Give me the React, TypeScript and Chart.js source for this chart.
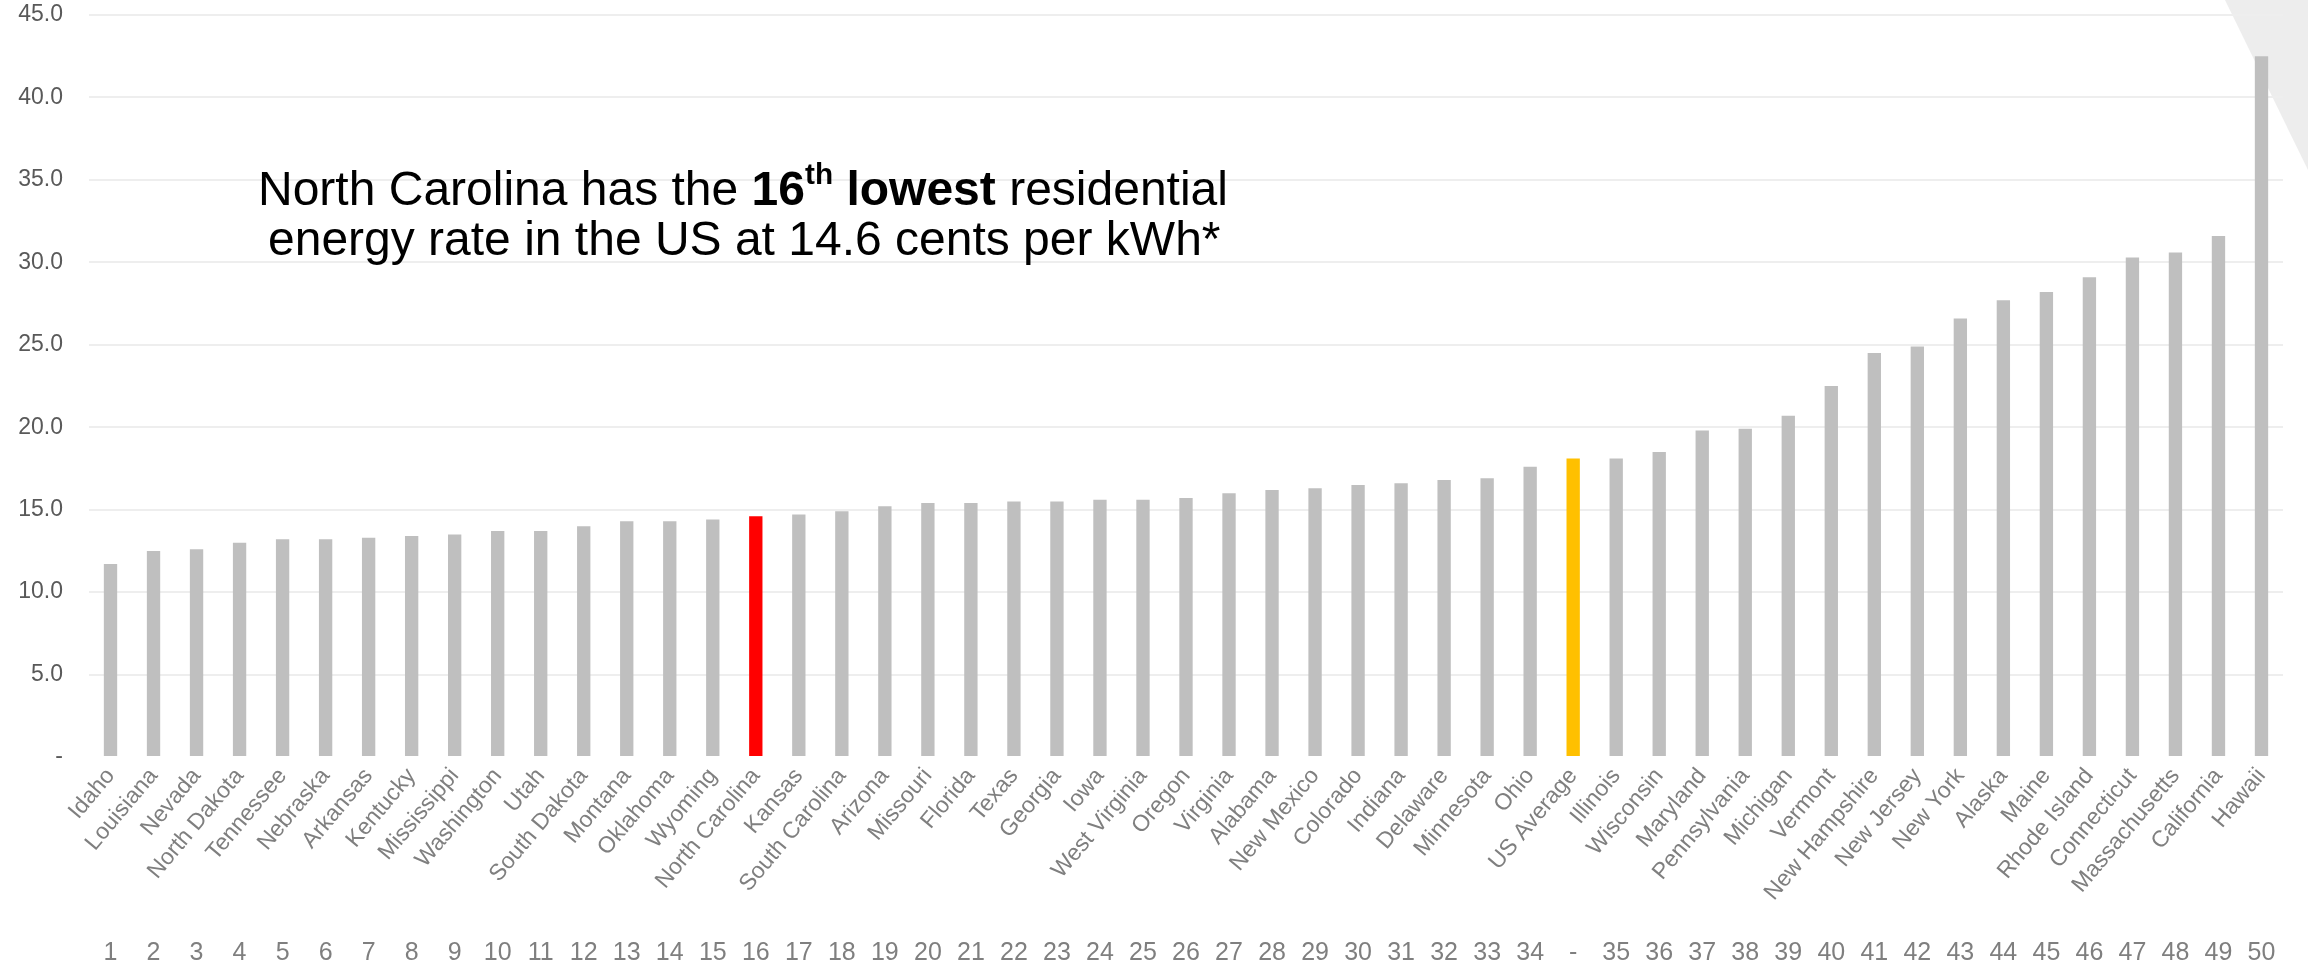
import React, { useEffect, useRef } from 'react';
import { Chart, registerables } from 'chart.js';

Chart.register(...registerables);

const categories = [
  'Idaho', 'Louisiana', 'Nevada', 'North Dakota', 'Tennessee', 'Nebraska', 'Arkansas', 'Kentucky',
  'Mississippi', 'Washington', 'Utah', 'South Dakota', 'Montana', 'Oklahoma', 'Wyoming', 'North Carolina',
  'Kansas', 'South Carolina', 'Arizona', 'Missouri', 'Florida', 'Texas', 'Georgia', 'Iowa',
  'West Virginia', 'Oregon', 'Virginia', 'Alabama', 'New Mexico', 'Colorado', 'Indiana', 'Delaware',
  'Minnesota', 'Ohio', 'US Average', 'Illinois', 'Wisconsin', 'Maryland', 'Pennsylvania', 'Michigan',
  'Vermont', 'New Hampshire', 'New Jersey', 'New York', 'Alaska', 'Maine', 'Rhode Island', 'Connecticut',
  'Massachusetts', 'California', 'Hawaii',
];

// Residential rate, cents per kWh
const rates = [
  11.7, 12.5, 12.6, 13.0, 13.2, 13.2, 13.3, 13.4, 13.5, 13.7,
  13.7, 14.0, 14.3, 14.3, 14.4, 14.6, 14.7, 14.9, 15.2, 15.4,
  15.4, 15.5, 15.5, 15.6, 15.6, 15.7, 16.0, 16.2, 16.3, 16.5,
  16.6, 16.8, 16.9, 17.6, 18.1, 18.1, 18.5, 19.8, 19.9, 20.7,
  22.5, 24.5, 24.9, 26.6, 27.7, 28.2, 29.1, 30.3, 30.6, 31.6,
  42.5,
];

const ranks = [
  '1', '2', '3', '4', '5', '6', '7', '8', '9', '10', '11', '12', '13', '14', '15', '16', '17',
  '18', '19', '20', '21', '22', '23', '24', '25', '26', '27', '28', '29', '30', '31', '32', '33',
  '34', '-', '35', '36', '37', '38', '39', '40', '41', '42', '43', '44', '45', '46', '47', '48',
  '49', '50',
];

const highlightState = 'North Carolina';
const averageLabel = 'US Average';

const FONT = '"Liberation Sans", Arial, sans-serif';
const NARROW = '"Liberation Sans Narrow", "Liberation Sans", Arial, sans-serif';

export default function App() {
  const canvasRef = useRef<HTMLCanvasElement | null>(null);

  useEffect(() => {
    if (!canvasRef.current) return;
    const colors = categories.map((c) =>
      c === highlightState ? '#ff0000' : c === averageLabel ? '#ffc000' : '#bfbfbf'
    );
    const chart = new Chart(canvasRef.current, {
      type: 'bar',
      data: {
        labels: categories,
        datasets: [
          {
            data: rates,
            backgroundColor: colors,
            borderWidth: 0,
            barPercentage: 0.31,
            categoryPercentage: 1,
          },
        ],
      },
      options: {
        responsive: true,
        maintainAspectRatio: false,
        animation: false,
        layout: { padding: { top: 15, right: 25, left: 0, bottom: 0 } },
        plugins: {
          legend: { display: false },
          tooltip: { enabled: false },
        },
        scales: {
          x: {
            type: 'category',
            offset: true,
            grid: { display: false, drawTicks: false },
            border: { display: false },
            ticks: {
              autoSkip: false,
              minRotation: 50,
              maxRotation: 50,
              padding: 6,
              color: '#7f7f7f',
              font: { family: FONT, size: 23 },
            },
            afterFit: (s: any) => {
              s.height = 155;
              s.paddingTop = 0;
            },
          },
          x2: {
            type: 'category',
            labels: ranks,
            position: 'bottom',
            offset: true,
            grid: { display: false, drawTicks: false },
            border: { display: false },
            ticks: {
              autoSkip: false,
              minRotation: 0,
              maxRotation: 0,
              padding: 26,
              color: '#7f7f7f',
              font: { family: NARROW, size: 25 },
            },
            afterFit: (s: any) => {
              s.height = 58;
              s.paddingTop = 0;
            },
          },
          y: {
            min: 0,
            max: 45,
            ticks: {
              stepSize: 5,
              padding: 26,
              color: '#595959',
              font: { family: FONT, size: 23 },
              callback: (v: any) => (Number(v) === 0 ? '-' : Number(v).toFixed(1)),
            },
            grid: {
              color: (ctx: any) => (ctx.tick && ctx.tick.value === 0 ? 'rgba(0,0,0,0)' : '#eeeeee'),
              lineWidth: 2,
              drawTicks: false,
            },
            border: { display: false },
            afterFit: (s: any) => {
              s.width = 89;
              s.paddingTop = 0;
            },
          },
        },
      },
    });
    return () => chart.destroy();
  }, []);

  return (
    <div style={{ position: 'absolute', left: 0, top: 0, width: 2308, height: 970, background: '#ffffff', overflow: 'hidden' }}>
      <div
        style={{
          position: 'absolute',
          left: 2225,
          top: 0,
          width: 83,
          height: 170,
          background: '#dcdcdc',
          opacity: 0.5,
          clipPath: 'polygon(0 0, 100% 0, 100% 100%)',
          pointerEvents: 'none',
        }}
      />
      <canvas ref={canvasRef} style={{ position: 'relative', width: '100%', height: '100%' }} />
      <div
        style={{
          position: 'absolute',
          left: 258,
          top: 164,
          fontFamily: FONT,
          fontSize: 48,
          lineHeight: '50px',
          color: '#000000',
          whiteSpace: 'nowrap',
          pointerEvents: 'none',
        }}
      >
        <div>
          North Carolina has the{' '}
          <b>
            16<span style={{ fontSize: '0.62em', verticalAlign: '0.72em', lineHeight: 0 }}>th</span> lowest
          </b>{' '}
          residential
        </div>
        <div style={{ paddingLeft: 10 }}>energy rate in the US at 14.6 cents per kWh*</div>
      </div>
    </div>
  );
}
